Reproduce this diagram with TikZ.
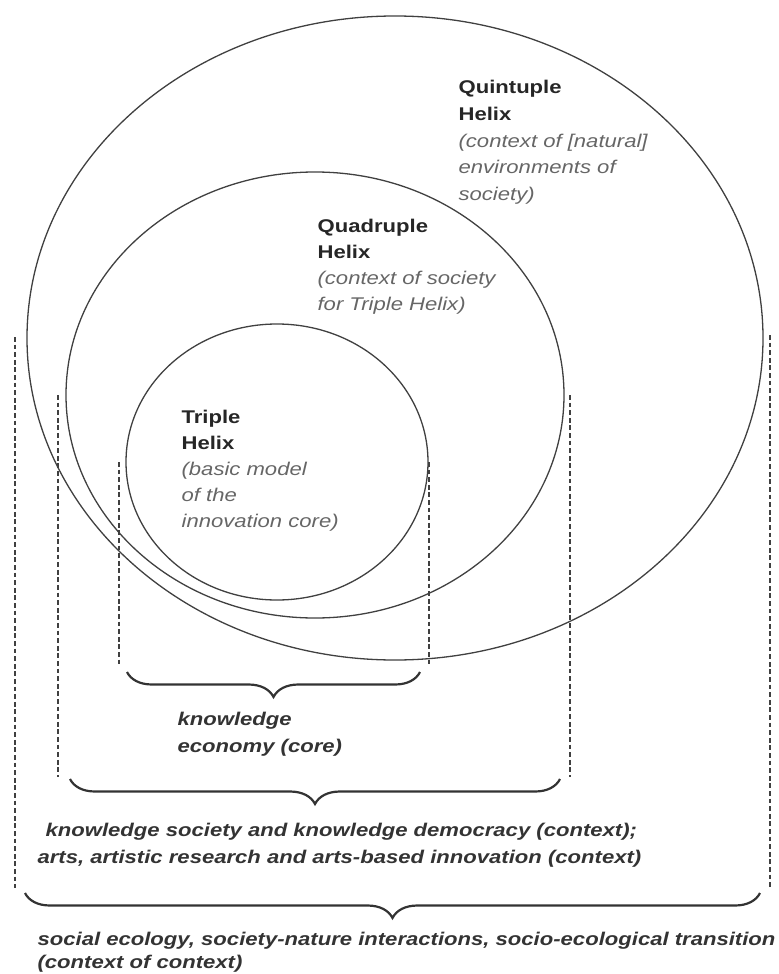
\documentclass[tikz,border=0pt]{standalone}
\usepackage{fontspec}
\setmainfont{Liberation Sans}[FakeStretch=1.2]
\usetikzlibrary{shapes.geometric,decorations.pathreplacing}

\begin{document}
\begin{tikzpicture}[x=0.5pt,y=-0.5pt,semithick,
                    every node/.style={inner sep=0pt}]
  \tikzstyle{helix}=[ellipse,draw=black!75,line width=0.65pt]
  \tikzstyle{guide}=[draw=black!75,line width=0.8pt,dash pattern=on 2.4pt off 1.4pt]
  \tikzstyle{bracebar}=[draw=black!80,line width=1.1pt,decorate,decoration={brace,amplitude=12.5pt}]
  \tikzstyle{helixtext}=[anchor=north west,align=left,text=black!85,font=\fontsize{9.2}{12.9}\selectfont]
  \tikzstyle{ctxtext}=[anchor=north west,align=left,text=black!80,font=\fontsize{9.2}{13.5}\selectfont\bfseries\itshape]

  \useasboundingbox (0,0) rectangle (779,974);

  \node[helix,minimum width=368pt,minimum height=322pt] (quint)  at (395,338) {};
  \node[helix,minimum width=249pt,minimum height=223pt] (quad)   at (315,395) {};
  \node[helix,minimum width=151pt,minimum height=138pt] (triple) at (277,462) {};

  \node[helixtext,font=\fontsize{9.2}{13.3}\selectfont] (quinttext) at (458,80)
    {\textbf{Quintuple}\\ \textbf{Helix}\\ {\color{black!60}\itshape (context of [natural]}\\
     {\color{black!60}\itshape environments of}\\ {\color{black!60}\itshape society)}};
  \node[helixtext] (quadtext) at (317,219)
    {\textbf{Quadruple}\\ \textbf{Helix}\\ {\color{black!60}\itshape (context of society}\\
     {\color{black!60}\itshape for Triple Helix)}};
  \node[helixtext] (tripletext) at (181,410)
    {\textbf{Triple}\\ \textbf{Helix}\\ {\color{black!60}\itshape (basic model}\\
     {\color{black!60}\itshape of the}\\ {\color{black!60}\itshape innovation core)}};

  \coordinate (core-lt) at (119,462);  \coordinate (core-lb) at (119,665);
  \coordinate (core-rt) at (429,462);  \coordinate (core-rb) at (429,665);
  \coordinate (ctx-lt)  at (58,395);   \coordinate (ctx-lb)  at (58,777);
  \coordinate (ctx-rt)  at (570,395);  \coordinate (ctx-rb)  at (570,777);
  \coordinate (eco-lt)  at (15,337);   \coordinate (eco-lb)  at (15,888);
  \coordinate (eco-rt)  at (770,335);  \coordinate (eco-rb)  at (770,888);

  \draw[guide] (core-lt) -- (core-lb);
  \draw[guide] (core-rt) -- (core-rb);
  \draw[guide] (ctx-lt) -- (ctx-lb);
  \draw[guide] (ctx-rt) -- (ctx-rb);
  \draw[guide] (eco-lt) -- (eco-lb);
  \draw[guide] (eco-rt) -- (eco-rb);

  \coordinate (core-bl) at (127,672);  \coordinate (core-br) at (420,672);
  \coordinate (ctx-bl)  at (70,779);   \coordinate (ctx-br)  at (560,779);
  \coordinate (eco-bl)  at (25,893);   \coordinate (eco-br)  at (760,893);

  \draw[bracebar] (core-br) -- (core-bl);
  \draw[bracebar] (ctx-br) -- (ctx-bl);
  \draw[bracebar] (eco-br) -- (eco-bl);

  \node[ctxtext] (coretext) at (177,712) {knowledge\\ economy (core)};
  \node[ctxtext] (ctxnote) at (37,823)
    {\hspace*{4pt}knowledge society and knowledge democracy (context);\\
     arts, artistic research and arts-based innovation (context)};
  \node[ctxtext,font=\fontsize{9.2}{11.5}\selectfont\bfseries\itshape] (econote) at (37,932)
    {social ecology, society-nature interactions, socio-ecological transition\\ (context of context)};
\end{tikzpicture}
\end{document}
